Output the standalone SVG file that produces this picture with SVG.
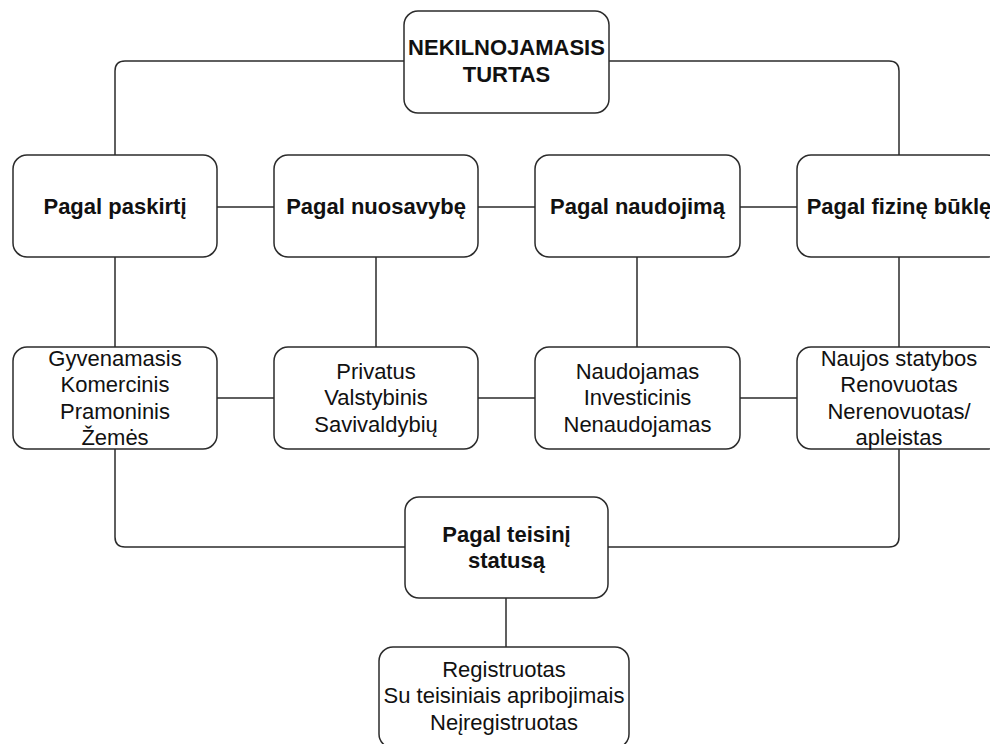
<svg xmlns="http://www.w3.org/2000/svg" width="990" height="744" viewBox="0 0 990 744">
<style>
.n{fill:#fff;stroke:#2b2b2b;stroke-width:1.5}
.c{fill:none;stroke:#2b2b2b;stroke-width:1.5}
.b{font-family:"Liberation Sans",Arial,sans-serif;font-size:22px;font-weight:bold;fill:#111;text-anchor:middle}
.r{font-family:"Liberation Sans",Arial,sans-serif;font-size:22px;fill:#111;text-anchor:middle}
</style>
<rect width="990" height="744" fill="#fff"/>
<g id="connectors">
<path class="c" d="M404,61 H125 Q115,61 115,71 V155"/>
<path class="c" d="M609,61 H889 Q899,61 899,71 V155"/>
<path class="c" d="M217,207 H274 M478,207 H535 M740,207 H797"/>
<path class="c" d="M115,257 V347 M376,257 V347 M637,257 V347 M899,257 V347"/>
<path class="c" d="M217,398 H274 M478,398 H535 M740,398 H797"/>
<path class="c" d="M115,449 V537 Q115,547 125,547 H405"/>
<path class="c" d="M899,449 V537 Q899,547 889,547 H608"/>
<path class="c" d="M506,598 V647"/>
</g>
<g id="root">
<rect class="n" x="404" y="11" width="205" height="102" rx="14"/>
<text class="b" x="506.5" y="55">NEKILNOJAMASIS</text>
<text class="b" x="506.5" y="82">TURTAS</text>
</g>
<g id="paskirtis">
<rect class="n" x="13" y="155" width="204" height="102" rx="14"/>
<text class="b" x="115" y="214">Pagal paskirtį</text>
</g>
<g id="nuosavybe">
<rect class="n" x="274" y="155" width="204" height="102" rx="14"/>
<text class="b" x="376" y="214">Pagal nuosavybę</text>
</g>
<g id="naudojimas">
<rect class="n" x="535" y="155" width="205" height="102" rx="14"/>
<text class="b" x="637.5" y="214">Pagal naudojimą</text>
</g>
<g id="fizine">
<rect class="n" x="797" y="155" width="204" height="102" rx="14"/>
<text class="b" x="899" y="214">Pagal fizinę būklę</text>
</g>
<g id="paskirtis-list">
<rect class="n" x="13" y="347" width="204" height="102" rx="14"/>
<text class="r" x="115" y="366">Gyvenamasis</text>
<text class="r" x="115" y="392">Komercinis</text>
<text class="r" x="115" y="418.5">Pramoninis</text>
<text class="r" x="115" y="445">Žemės</text>
</g>
<g id="nuosavybe-list">
<rect class="n" x="274" y="347" width="204" height="102" rx="14"/>
<text class="r" x="376" y="379">Privatus</text>
<text class="r" x="376" y="405">Valstybinis</text>
<text class="r" x="376" y="431.5">Savivaldybių</text>
</g>
<g id="naudojimas-list">
<rect class="n" x="535" y="347" width="205" height="102" rx="14"/>
<text class="r" x="637.5" y="379">Naudojamas</text>
<text class="r" x="637.5" y="405">Investicinis</text>
<text class="r" x="637.5" y="431.5">Nenaudojamas</text>
</g>
<g id="fizine-list">
<rect class="n" x="797" y="347" width="204" height="102" rx="14"/>
<text class="r" x="899" y="366">Naujos statybos</text>
<text class="r" x="899" y="392">Renovuotas</text>
<text class="r" x="899" y="418.5">Nerenovuotas/</text>
<text class="r" x="899" y="445">apleistas</text>
</g>
<g id="teisinis">
<rect class="n" x="405" y="497" width="203" height="101" rx="14"/>
<text class="b" x="506.5" y="542">Pagal teisinį</text>
<text class="b" x="506.5" y="568">statusą</text>
</g>
<g id="teisinis-list">
<rect class="n" x="379" y="647" width="250" height="101" rx="14"/>
<text class="r" x="504" y="677">Registruotas</text>
<text class="r" x="504" y="703">Su teisiniais apribojimais</text>
<text class="r" x="504" y="730">Neįregistruotas</text>
</g>
</svg>
